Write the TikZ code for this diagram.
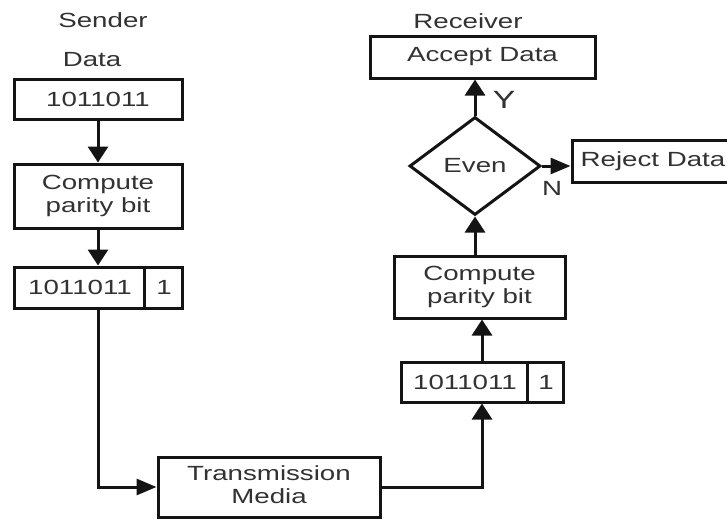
\documentclass[tikz,border=0pt]{standalone}
\usepackage{fontspec}
\setmainfont{Liberation Sans}
\usepackage{graphicx}
\usetikzlibrary{shapes.geometric,arrows.meta}
\definecolor{txt}{RGB}{50,50,50}
\definecolor{ln}{RGB}{20,20,20}
\newcommand{\wx}[1]{\scalebox{1.35}[1]{#1}}
\newcommand{\wxx}[2]{\scalebox{1.35}[1]{\begin{tabular}{@{}c@{}}#1\\#2\end{tabular}}}
\begin{document}
\begin{tikzpicture}[x=1pt,y=-1pt,
  every node/.style={font=\fontsize{20.5}{23}\selectfont, text=txt},
  box/.style={draw=ln, line width=3pt, inner sep=0pt},
  dia/.style={draw=ln, line width=3pt, inner sep=0pt, shape=diamond},
  arrV/.style={draw=ln, line width=3pt, -{Triangle[width=20pt,length=16pt]}},
  arrH/.style={draw=ln, line width=3pt, -{Triangle[width=16pt,length=20pt]}},
  wire/.style={draw=ln, line width=3pt}]
\clip (0,0) rectangle (727,520);
\fill[white] (0,0) rectangle (727,520);
% labels
\node (snd) at (103,20) {\wx{Sender}};
\node (dat) at (92,60) {\wx{Data}};
\node (rcv) at (468,21) {\wx{Receiver}};
% sender side
\node[box, minimum width=168pt, minimum height=40pt] (b1) at (98,99) {\wx{1011011}};
\node[box, minimum width=168pt, minimum height=64pt] (c1) at (98,196) {\wxx{Compute}{parity bit}};
\node[box, minimum width=168pt, minimum height=41pt] (b3) at (98,287.5) {};
\node (b3a) at (80,287.5) {\wx{1011011}};
\node (b3b) at (164,287.5) {\wx{1}};
\draw[wire] ([xshift=132pt]b3.north west) -- ([xshift=132pt]b3.south west);
% transmission
\node[box, minimum width=222pt, minimum height=60pt] (tm) at (269,487) {\wxx{Transmission}{Media}};
% receiver side
\node[box, minimum width=162pt, minimum height=40pt] (b4) at (482,382) {};
\node (b4a) at (465,382) {\wx{1011011}};
\node (b4b) at (546,382) {\wx{1}};
\draw[wire] ([xshift=128pt]b4.north west) -- ([xshift=128pt]b4.south west);
\node[box, minimum width=171pt, minimum height=62pt] (c2) at (479.5,287) {\wxx{Compute}{parity bit}};
\node[dia, minimum width=131pt, minimum height=98pt] (ev) at (475,166) {\wx{Even}};
\node[box, minimum width=225pt, minimum height=42pt] (acc) at (482.5,57) {\wx{Accept Data}};
\node[box, minimum width=162pt, minimum height=42pt] (rej) at (653,161) {\wx{Reject Data}};
\node[font=\fontsize{25}{28}\selectfont] (ylab) at (504,100) {\wx{Y}};
\node (nlab) at (552,188) {\wx{N}};
% connectors
\draw[arrV] (b1.south) -- (c1.north);
\draw[arrV] (c1.south) -- (b3.north);
\draw[arrH] (b3.south) |- (tm.west);
\draw[arrV] (tm.east) -| (b4.south);
\draw[arrV] (b4.north) -- (b4.north |- c2.south);
\draw[arrV] (ev.south |- c2.north) -- (ev.south);
\draw[arrV] (ev.north) -- (ev.north |- acc.south);
\draw[arrH] (ev.east) -- (ev.east -| rej.west);
\end{tikzpicture}
\end{document}
